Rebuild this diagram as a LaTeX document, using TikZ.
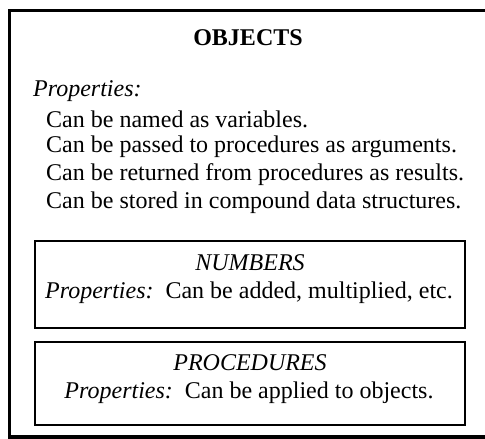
\documentclass[tikz,border=0pt]{standalone}
\usepackage{fontspec}
\setmainfont{Liberation Serif}
\begin{document}
\begin{tikzpicture}[x=1pt,y=-1pt,
  txt/.style={inner sep=0pt, font=\fontsize{24}{28}\selectfont},
  frame/.style={line width=3.2pt},
  innerbox/.style={draw, line width=2pt, inner sep=0pt, minimum width=430pt},
]
\useasboundingbox (0,0) rectangle (485,439);
% outer frame (open at right, cut by the picture edge)
\coordinate (tr) at (490,10.5);
\coordinate (tl) at (9.5,10.5);
\coordinate (bl) at (9.5,437);
\coordinate (br) at (490,437);
\draw[frame] (tr) -- (tl) -- (bl) -- (br);

\node[txt, font=\fontsize{24}{28}\selectfont\bfseries] (title) at (248,38) {OBJECTS};
\node[txt, anchor=west] (props) at (33,91) {\textit{Properties:}};
\node[txt, anchor=west] (p1) at (46,119) {Can be named as variables.};
\node[txt, anchor=west] (p2) at (46,147) {Can be passed to procedures as arguments.};
\node[txt, anchor=west] (p3) at (46,175) {Can be returned from procedures as results.};
\node[txt, anchor=west] (p4) at (46,203) {Can be stored in compound data structures.};

\node[innerbox, minimum height=87pt] (numbox) at (250,284.5) {};
\node[txt] (numtitle) at (250,263) {\textit{NUMBERS}};
\node[txt] (numprop) at (249,293) {\textit{Properties:}\hspace{0.5em}Can be added, multiplied, etc.};

\node[innerbox, minimum height=83pt] (procbox) at (250,383.5) {};
\node[txt] (proctitle) at (250,363) {\textit{PROCEDURES}};
\node[txt] (procprop) at (249,393) {\textit{Properties:}\hspace{0.5em}Can be applied to objects.};
\end{tikzpicture}
\end{document}
